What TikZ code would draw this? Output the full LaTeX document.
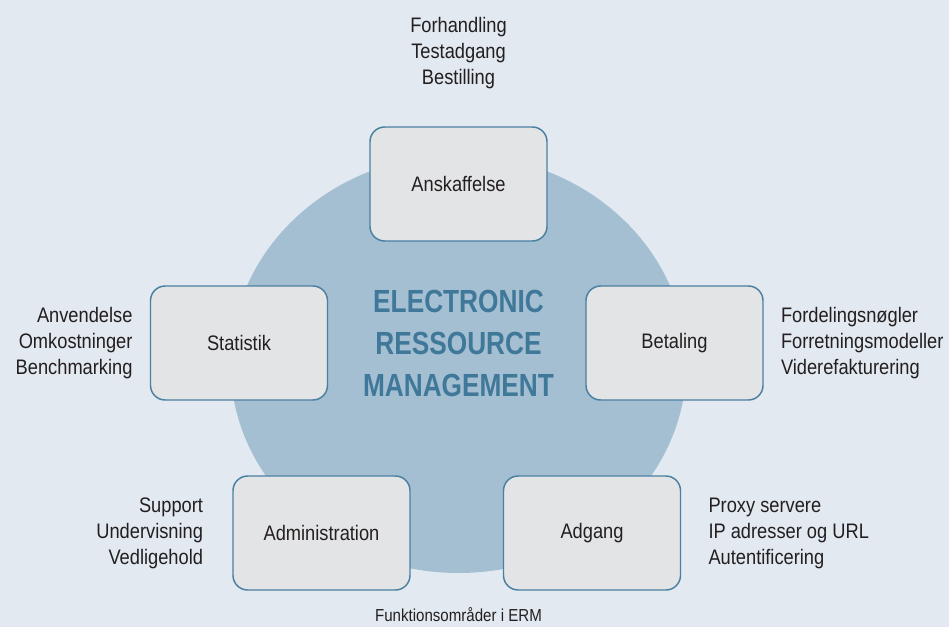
\documentclass[tikz,border=0pt]{standalone}
\usepackage{fontspec}
\setmainfont[FakeStretch=0.87]{Liberation Sans}
\newfontfamily\titlefont[FakeStretch=0.82]{Liberation Sans}
\usetikzlibrary{positioning}

\definecolor{pagebg}{HTML}{E2E9F1}
\definecolor{ringfill}{HTML}{A4BED2}
\definecolor{boxfill}{HTML}{E3E4E6}
\definecolor{boxline}{HTML}{4A80A2}
\definecolor{titleblue}{HTML}{3F7899}
\definecolor{ink}{HTML}{231F20}

\newcommand{\notefont}{\fontsize{15.75pt}{19.5pt}\selectfont}

\begin{document}
\begin{tikzpicture}
    [x=0.75pt, y=-0.75pt,
    area/.style={draw=boxline, line width=1.1pt, fill=boxfill,
      rounded corners=11pt, minimum width=132.75pt, minimum height=85.5pt,
      font=\notefont, text=ink},
    notes/.style={inner sep=0pt, font=\notefont, text=ink},
    ermtitle/.style={align=center, text=titleblue,
      font=\titlefont\bfseries\fontsize{24pt}{31.5pt}\selectfont}]
    \fill[pagebg] (0,0) rectangle (949,627);
    \fill[ringfill] (458.5,364) ellipse [x radius=171pt, y radius=156.75pt];

    % the five areas
    \node[area] (anskaffelse) at (458.5,184) {Anskaffelse};
    \node[area] (statistik) at (239,343) {Statistik};
    \node[area] (betaling) at (674.5,343) {Betaling};
    \node[area] (administration) at (321.5,533) {Administration};
    \node[area] (adgang) at (592,533) {Adgang};

    \node[ermtitle] (erm) at (458.5,343) {ELECTRONIC\\RESSOURCE\\MANAGEMENT};

    % what each area covers
    \node[notes, align=center, above=27.75pt of anskaffelse] (anskaffelsenotes)
      {Forhandling\\Testadgang\\Bestilling};
    \node[notes, align=right, left=12.75pt of statistik] (statistiknotes)
      {Anvendelse\\Omkostninger\\Benchmarking};
    \node[notes, align=left, right=12.75pt of betaling] (betalingnotes)
      {Fordelingsnøgler\\Forretningsmodeller\\Viderefakturering};
    \node[notes, align=right, left=21.75pt of administration] (administrationnotes)
      {Support\\Undervisning\\Vedligehold};
    \node[notes, align=left, right=20.25pt of adgang] (adgangnotes)
      {Proxy servere\\IP adresser og URL\\Autentificering};

    \node[notes, font=\fontsize{13pt}{15pt}\selectfont] (caption) at (458.5,615)
      {Funktionsområder i ERM};
\end{tikzpicture}
\end{document}
